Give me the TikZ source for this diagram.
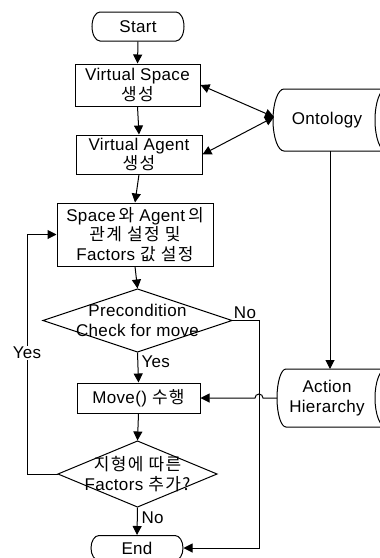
\documentclass[tikz,border=0pt]{standalone}
\usepackage{fontspec}
\setmainfont{Liberation Sans}[LetterSpace=2]
\newfontfamily\kr{Noto Sans CJK KR}[Scale=1.0,LetterSpace=8]
\usetikzlibrary{arrows.meta}
\begin{document}
\begin{tikzpicture}[x=1pt,y=-1pt,line width=1pt,
  every node/.style={font=\fontsize{17pt}{19.5pt}\selectfont,inner sep=0pt},
  box/.style={draw,minimum width=#1,align=center},
  shp/.style={draw=none,align=center},
  arr/.style={-{Triangle[length=9pt,width=9pt]}},
  darr/.style={{Triangle[length=9pt,width=9pt]}-{Triangle[length=9pt,width=9pt]}},
  lbl/.style={font=\fontsize{17pt}{19pt}\selectfont}]
\useasboundingbox (0,0) rectangle (380,558);
\clip (0,0) rectangle (380,558);
\fill[white] (0,0) rectangle (380,558);

% terminators
\draw (100,12) -- (176,12) arc[start angle=90,end angle=-90,x radius=8pt,y radius=14.5pt] -- (100,41) arc[start angle=270,end angle=90,x radius=8pt,y radius=14.5pt] -- cycle;
\node[shp,minimum width=92pt,minimum height=29pt] (start) at (138,26.5) {Start};
\draw (99,535.5) -- (175,535.5) arc[start angle=90,end angle=-90,x radius=8pt,y radius=12.5pt] -- (99,560.5) arc[start angle=270,end angle=90,x radius=8pt,y radius=12.5pt] -- cycle;
\node[shp,minimum width=92pt,minimum height=25pt] (end) at (137,548) {End};

% boxes
\node[box=125pt,minimum height=42pt] (vs) at (137.5,85) {Virtual Space\\{\kr 생성}};
\node[box=126pt,minimum height=39pt] (va) at (139,154.5) {Virtual Agent\\{\kr 생성}};
\node[box=156pt,minimum height=63pt] (sp) at (135,234.5) {Space\,{\kr 와} Agent\,{\kr 의}\\{\kr 관계 설정 및}\\Factors {\kr 값 설정}};
\node[box=123pt,minimum height=30pt] (mv) at (138.5,398) {Move() {\kr 수행}};

% diamonds
\draw (43,320.5) -- (137.5,289) -- (232,320.5) -- (137.5,352) -- cycle;
\node[shp,minimum width=189pt,minimum height=63pt] (d1) at (137.5,320.5) {Precondition\\Check for move};
\draw (58,474) -- (137.5,441) -- (217,474) -- (137.5,507) -- cycle;
\node[shp,minimum width=159pt,minimum height=66pt] (d2) at (137.5,474) {{\kr 지형에 따른}\\Factors {\kr 추가?}};

% storage shapes
\draw (392,89) -- (284,89) arc[start angle=90,end angle=270,x radius=11pt,y radius=31pt] -- (392,151);
\draw (386,89) arc[start angle=90,end angle=270,x radius=11pt,y radius=31pt];
\node[shp] (ont) at (327,120) {Ontology};
\coordinate (ontw) at (274,117);
\coordinate (onts) at (330,151);
\draw (392,369) -- (286,369) arc[start angle=90,end angle=270,x radius=9pt,y radius=29pt] -- (392,427);
\draw (386,369) arc[start angle=90,end angle=270,x radius=11pt,y radius=29pt];
\node[shp] (ah) at (327,398) {Action\\Hierarchy};
\coordinate (ahw) at (277,398);
\coordinate (ahn) at (330,369);

% main flow
\draw[arr] (start.south) -- (vs.north);
\draw[arr] (vs.south) -- (va.north);
\draw[arr] (va.south) -- (sp.north);
\draw[arr] (sp.south) -- (d1.north);
\draw[arr] (d1.south) -- (mv.north);
\draw[arr] (mv.south) -- (d2.north);
\draw[arr] (d2.south) -- (end.north);

% No branch from d1
\coordinate (nocol) at (259,320.5);
\draw[arr] (d1.east) -- (nocol) |- (end.east);
% Yes loop from d2
\coordinate (yescol) at (27,474);
\draw[arr] (d2.west) -- (yescol) |- (sp.west);

% ontology links
\draw[darr] (vs.east) -- (ontw);
\draw[darr] (va.east) -- (ontw);
\draw[arr] (onts) -- (ahn);
\draw[arr] (ahw) -- (263,398) arc[start angle=0,end angle=180,radius=4pt] -- (mv.east);

% labels
\node[lbl] (lno1) at (245,313) {No};
\node[lbl,anchor=west] (lyes1) at (141,362) {Yes};
\node[lbl,fill=white,inner sep=1.5pt] (lyes2) at (27,353) {Yes};
\node[lbl,anchor=west] (lno2) at (141,518) {No};
\end{tikzpicture}
\end{document}
